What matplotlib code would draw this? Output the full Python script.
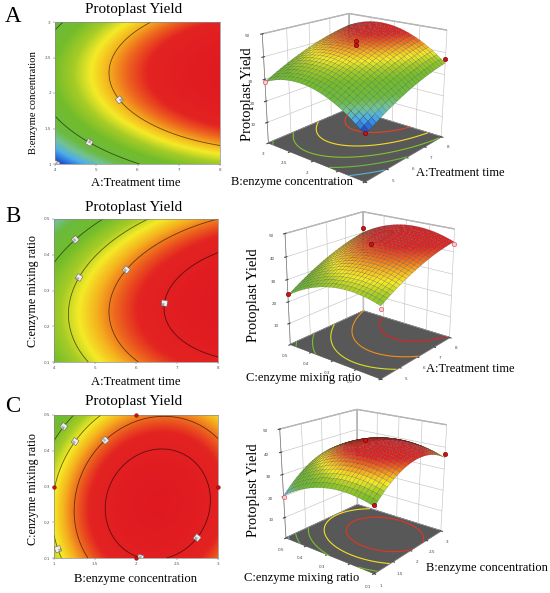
import numpy as np
import matplotlib
matplotlib.use("Agg")
import matplotlib.pyplot as plt
from matplotlib.colors import LinearSegmentedColormap, Normalize

# ------------------------------------------------------------------ data
response_name = "Protoplast Yield"
factor_labels = ["A:Treatment time", "B:enzyme concentration", "C:enzyme mixing ratio"]
factor_low = [4.0, 1.0, 0.1]
factor_high = [8.0, 3.0, 0.5]
factor_ticks = [[4, 5, 6, 7, 8], [1, 1.5, 2, 2.5, 3], [0.1, 0.2, 0.3, 0.4, 0.5]]
factor_ticklabels = [["4", "5", "6", "7", "8"], ["1", "1.5", "2", "2.5", "3"],
                     ["0.1", "0.2", "0.3", "0.4", "0.5"]]

# quadratic response-surface model (coded units -1..1)
model_intercept = 42.3
model_linear = [7.7, 4.5, -3.0]          # A, B, C
model_quadratic = [-2.3, -8.0, -5.5]     # A^2, B^2, C^2
model_interaction = [0.0, 0.8, 1.0]      # AB, AC, BC

panel_letters = ["A", "B", "C"]
panel_pairs = [(0, 1), (0, 2), (1, 2)]   # (x factor, y factor)
contour_levels = [[20, 30, 40], [30, 35, 40, 45], [25, 30, 35, 40]]
floor_levels = [[25, 30, 35, 40, 45], [25, 30, 35, 40, 45], [21.5, 25, 30, 35, 40]]
z_ticks = [10, 20, 30, 40, 50]

label_positions = [
    [(4.1, 1.03), (4.85, 1.32), (5.55, 1.9)],
    [(4.38, 0.46), (4.48, 0.345), (5.66, 0.368), (6.66, 0.265)],
    [(1.05, 0.48), (1.2, 0.435), (1.05, 0.125), (1.58, 0.44), (2.95, 0.12), (2.09, 0.129)],
]
design2d_C_x = [2, 1, 3, 2]
design2d_C_y = [0.5, 0.3, 0.3, 0.1]

design3d_x = [[4, 4, 8, 6, 6], [4, 4, 8, 8, 6], [1, 1, 3, 2]]
design3d_y = [[1, 3, 1, 2, 2], [0.5, 0.1, 0.1, 0.5, 0.3], [0.5, 0.1, 0.1, 0.3]]
design3d_z = [[20.5, 29.0, 37.0, 44.5, 46.0], [23.5, 29.5, 43.5, 42.0, 44.5], [19.5, 29.0, 37.0, 44.5]]
design3d_above = [[True, False, True, True, True], [True, False, False, True, True],
                  [False, True, True, True]]

# ------------------------------------------------------------------ style
W, H = 550, 593
SERIF = ["Liberation Serif", "DejaVu Serif"]
plt.rcParams["font.family"] = ["DejaVu Sans"]
plt.rcParams["grid.color"] = "#c4c4c4"
plt.rcParams["grid.linewidth"] = 0.45
plt.rcParams["axes.edgecolor"] = "#7a7a7a"
plt.rcParams["axes.linewidth"] = 0.5

cmap = LinearSegmentedColormap.from_list("de", [
    (0.00, (0.12, 0.20, 0.60)),
    (0.06, (0.15, 0.40, 0.85)),
    (0.14, (0.30, 0.68, 0.92)),
    (0.22, (0.45, 0.76, 0.58)),
    (0.30, (0.42, 0.73, 0.25)),
    (0.45, (0.45, 0.74, 0.17)),
    (0.55, (0.65, 0.80, 0.15)),
    (0.63, (0.96, 0.92, 0.15)),
    (0.70, (0.96, 0.70, 0.12)),
    (0.77, (0.93, 0.40, 0.12)),
    (0.84, (0.89, 0.14, 0.13)),
    (1.00, (0.88, 0.10, 0.13)),
])

# where the 3D boxes sit in the reference layout (pixels from the top-left):
# left floor, front floor, right floor, left top, back top, right top
box_targets = [
    [(269, 144.5), (365, 182), (441, 137), (263.5, 31.7), (347.3, 13.3), (446.7, 30.7)],
    [(287.7, 344), (382, 379), (450, 335), (285, 232.3), (362.3, 213.3), (455.7, 231.7)],
    [(285.7, 539), (375, 575), (440, 531), (281.7, 425.7), (356.7, 408.3), (445, 426.7)],
]
box_unit_pts = np.array([[0, 1, 0], [0, 0, 0], [1, 0, 0], [0, 1, 1], [1, 1, 1], [1, 0, 1]], float)


def model(ca, cb, cc):
    c = [ca, cb, cc]
    y = model_intercept
    for n in range(3):
        y = y + model_linear[n] * c[n] + model_quadratic[n] * c[n] ** 2
    y = (y + model_interaction[0] * ca * cb + model_interaction[1] * ca * cc
         + model_interaction[2] * cb * cc)
    return y


def coded(v, n):
    mid = (factor_low[n] + factor_high[n]) / 2
    half = (factor_high[n] - factor_low[n]) / 2
    return (v - mid) / half


def surface(i, j, xs, ys):
    X, Y = np.meshgrid(xs, ys)
    c = [np.zeros_like(X), np.zeros_like(X), np.zeros_like(X)]
    c[i] = coded(X, i)
    c[j] = coded(Y, j)
    return X, Y, model(*c)


def px_rect(x0, y0, x1, y1):
    return [x0 / W, 1 - y1 / H, (x1 - x0) / W, (y1 - y0) / H]


def ftext(x, y, s, **kw):
    fig.text(x / W, 1 - y / H, s, **kw)


fig = plt.figure(figsize=(W / 100, H / 100), dpi=100)

# ---------------------------------------------------- fit the 3D camera to the layout
probe = fig.add_axes(px_rect(0, 0, 200, 200), projection="3d")
probe.set_xlim(0, 1)
probe.set_ylim(0, 1)
probe.set_zlim(0, 1)
fig.canvas.draw()
P4 = np.hstack([box_unit_pts, np.ones((len(box_unit_pts), 1))]).T


def norm_proj(elev, azim, focal, asp):
    if focal is None:
        probe.set_proj_type("ortho")
    else:
        probe.set_proj_type("persp", focal_length=focal)
    probe.view_init(elev=elev, azim=azim)
    probe.set_box_aspect(asp)
    M = probe.get_proj()
    v = M @ P4
    xy = np.column_stack([v[0] / v[3], v[1] / v[3]])
    d = probe.transData.transform(xy)
    nrm = probe.transAxes.inverted().transform(d)
    return np.column_stack([nrm[:, 0], 1 - nrm[:, 1]])


def fit(uv, q):
    um = uv.mean(0)
    qm = q.mean(0)
    du = uv - um
    dq = q - qm
    S = (du * dq).sum() / (du * du).sum()
    org = qm - S * um
    res = ((org + S * uv - q) ** 2).sum()
    return res, S, org


def search(q, elevs, azims, focals, asps):
    best = None
    for f in focals:
        for asp in asps:
            for e in elevs:
                for a in azims:
                    r, S, org = fit(norm_proj(e, a, f, asp), q)
                    if best is None or r < best[0]:
                        best = (r, e, a, f, asp, S, org)
    return best


fits = []
focal_opts = [0.4, 0.5, 0.6]
asp_opts = [(1, 1, 0.9), (1, 1, 1.0), (1, 1.1, 1), (1.1, 1, 1)]
for k in range(3):
    q = np.array(box_targets[k])
    fits.append(search(q, range(16, 25), range(-144, -136), focal_opts, asp_opts))
probe.remove()


def draw_2d(k, rect, vmin, vmax):
    i, j = panel_pairs[k]
    ax = fig.add_axes(rect)
    xs = np.linspace(factor_low[i], factor_high[i], 300)
    ys = np.linspace(factor_low[j], factor_high[j], 300)
    X, Y, Z = surface(i, j, xs, ys)
    norm = Normalize(vmin, vmax)
    ax.imshow(Z, extent=[factor_low[i], factor_high[i], factor_low[j], factor_high[j]],
              origin="lower", aspect="auto", cmap=cmap, norm=norm, interpolation="bilinear")
    cols = [tuple(np.array(cmap(norm(l))[:3]) * 0.42) for l in contour_levels[k]]
    cs = ax.contour(X, Y, Z, levels=contour_levels[k], colors=cols, linewidths=0.6)
    texts = ax.clabel(cs, fmt="%d", fontsize=2.2, inline=False, manual=label_positions[k])
    for t in texts:
        t.set_color("#333333")
        t.set_bbox(dict(boxstyle="square,pad=0.3", fc="#eeeeee", ec="#666666", lw=0.4))
    if k == 2:
        ax.scatter(design2d_C_x, design2d_C_y, s=7, color="#c81010", edgecolor="#700000",
                   linewidth=0.3, zorder=5, clip_on=False)
    ax.set_xlim(factor_low[i], factor_high[i])
    ax.set_ylim(factor_low[j], factor_high[j])
    ax.set_xticks(factor_ticks[i])
    ax.set_xticklabels(factor_ticklabels[i])
    ax.set_yticks(factor_ticks[j])
    ax.set_yticklabels(factor_ticklabels[j])
    ax.tick_params(labelsize=3, colors="#555555", length=1.5, width=0.3, pad=1.5)
    for s in ax.spines.values():
        s.set_color("#8a8a8a")
        s.set_linewidth(0.5)
    return ax


def draw_3d(k, vmin, vmax):
    i, j = panel_pairs[k]
    _, elev, azim, focal, asp, S, org = fits[k]
    ax = fig.add_axes(px_rect(org[0], org[1], org[0] + S, org[1] + S), projection="3d",
                      computed_zorder=False)
    if focal is None:
        ax.set_proj_type("ortho")
    else:
        ax.set_proj_type("persp", focal_length=focal)
    ax.view_init(elev=elev, azim=azim)
    ax.set_box_aspect(asp)
    norm = Normalize(vmin, vmax)
    n = 26
    xs = np.linspace(factor_low[i], factor_high[i], n)
    ys = np.linspace(factor_low[j], factor_high[j], n)
    X, Y, Z = surface(i, j, xs, ys)
    xc = (xs[:-1] + xs[1:]) / 2
    yc = (ys[:-1] + ys[1:]) / 2
    _, _, Zc = surface(i, j, xc, yc)
    fc = np.zeros((n, n, 4))
    fc[:-1, :-1] = cmap(norm(Zc))
    fx = np.array([[factor_low[i], factor_high[i]], [factor_low[i], factor_high[i]]])
    fy = np.array([[factor_low[j], factor_low[j]], [factor_high[j], factor_high[j]]])
    ax.plot_surface(fx, fy, np.zeros((2, 2)), color="#585858", shade=False, linewidth=0,
                    zorder=1)
    xf = np.linspace(factor_low[i], factor_high[i], 120)
    yf = np.linspace(factor_low[j], factor_high[j], 120)
    Xf, Yf, Zf = surface(i, j, xf, yf)
    ax.contour(Xf, Yf, Zf, levels=floor_levels[k], zdir="z", offset=0,
               colors=[cmap(norm(l)) for l in floor_levels[k]], linewidths=0.8, zorder=2)
    ax.plot_surface(X, Y, Z, facecolors=fc, rstride=1, cstride=1, shade=False,
                    edgecolor=(0.15, 0.15, 0.15, 0.7), linewidth=0.15, zorder=3)
    for px_, py_, pz_, up in zip(design3d_x[k], design3d_y[k], design3d_z[k], design3d_above[k]):
        ax.scatter([px_], [py_], [pz_], s=10, color="#d01010" if up else "#ffc8cc",
                   edgecolor="#6a0000" if up else "#d04050", linewidth=0.4,
                   depthshade=False, zorder=4)
    ax.set_xlim(factor_low[i], factor_high[i])
    ax.set_ylim(factor_low[j], factor_high[j])
    ax.set_zlim(0, 50)
    ax.set_xticks(factor_ticks[i])
    ax.set_xticklabels(factor_ticklabels[i])
    ax.set_yticks(factor_ticks[j])
    ax.set_yticklabels(factor_ticklabels[j])
    ax.set_zticks(z_ticks)
    ax.set_zticklabels([str(z) for z in z_ticks])
    ax.tick_params(axis="both", labelsize=3, colors="#444444", pad=-3)
    ax.tick_params(axis="z", labelsize=3, colors="#444444", pad=-2)
    for a in (ax.xaxis, ax.yaxis):
        a.set_pane_color((1, 1, 1, 1))
        a.pane.set_edgecolor("#a0a0a0")
    ax.zaxis.set_pane_color((0.35, 0.35, 0.35, 1))
    ax.set_xlabel("")
    ax.set_ylabel("")
    ax.set_zlabel("")
    return ax


# ---------------------------------------------------------------- panels
rects2d = [px_rect(55, 22, 220, 164), px_rect(54, 219, 218, 362), px_rect(54, 415, 218, 558)]
norms2d = [(19.8, 48.5), (16.8, 47.9), (8.0, 43.4)]
for k in range(3):
    draw_2d(k, rects2d[k], *norms2d[k])

norms3d = [(19.8, 51.0), (12.5, 50.0), (17.0, 45.0)]
for k in range(3):
    draw_3d(k, *norms3d[k])

# ---------------------------------------------------------------- texts
title_y = [10, 207, 402]
letter_y = [17, 217, 407]
xlabel_y = [183, 382, 579]
ylabel_y = [102.5, 291, 489]
ylabel_sizes = [7.6, 8.7, 8.7]
for k in range(3):
    i, j = panel_pairs[k]
    ftext(134, title_y[k], response_name, ha="center", va="center", fontsize=10.8, family=SERIF)
    ftext(13, letter_y[k], panel_letters[k], ha="center", va="center", fontsize=16.5, family=SERIF)
    ftext(136, xlabel_y[k], factor_labels[i], ha="center", va="center", fontsize=9.1, family=SERIF)
    ftext(33, ylabel_y[k], factor_labels[j], ha="center", va="center", rotation=90,
          fontsize=ylabel_sizes[k], family=SERIF)

zlabel_xy = [(247, 94), (253, 295), (253, 490)]
left_lab = [(292, 182, 1), (304, 378, 2), (302, 578, 2)]
right_lab = [(460, 173, 0), (470, 369, 0), (487, 568, 1)]
for k in range(3):
    ftext(zlabel_xy[k][0], zlabel_xy[k][1], response_name, ha="center", va="center",
          rotation=90, fontsize=10.5, family=SERIF)
    x, y, n = left_lab[k]
    ftext(x, y, factor_labels[n], ha="center", va="center", fontsize=9, family=SERIF)
    x, y, n = right_lab[k]
    ftext(x, y, factor_labels[n], ha="center", va="center", fontsize=9, family=SERIF)

fig.savefig("out.png", dpi=100)
